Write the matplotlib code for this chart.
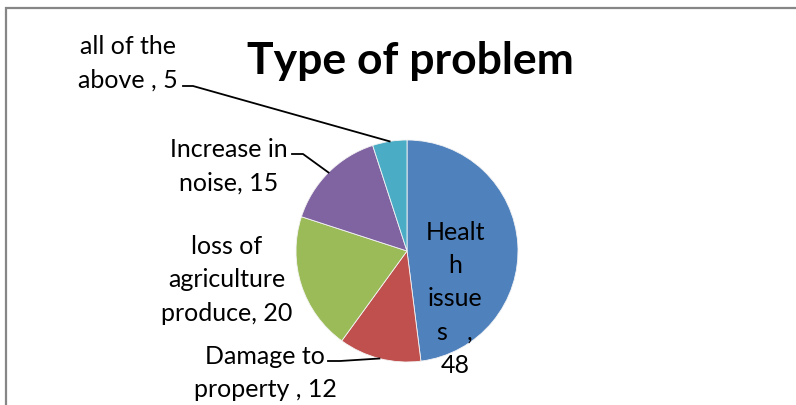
import numpy as np
import matplotlib.pyplot as plt

# data
labels = ['Health issues', 'Damage to property ', 'loss of agriculture produce', 'Increase in noise', 'all of the above ']
values = [48, 12, 20, 15, 5]
colors = ['#4F81BD', '#C0504D', '#9BBB59', '#8064A2', '#4BACC6']
title = 'Type of problem'

W, H = 796, 406


def py(y):
    # pixel row (from top) to data y
    return H - y


fig = plt.figure(figsize=(W / 100, H / 100), dpi=100)
ax = fig.add_axes([0, 0, 1, 1])

cx, cy, r = 407, py(252), 111
wedges, _ = ax.pie(values, colors=colors, startangle=90, counterclock=False,
                   center=(cx, cy), radius=r,
                   wedgeprops=dict(linewidth=0.6, edgecolor='#f4f4f4'))
ax.set_xlim(0, W)
ax.set_ylim(0, H)
ax.set_aspect('equal')
ax.axis('off')


def edge_point(w):
    ang = np.deg2rad((w.theta1 + w.theta2) / 2)
    return cx + r * np.cos(ang), cy + r * np.sin(ang)


font = 'Lato'
fs = 18
ls = 1.55

# frame (only top and left visible)
ax.plot([5.5, 5.5, W], [0, py(8.5), py(8.5)], color='#868686', lw=1.6,
        solid_joinstyle='miter', clip_on=False)

ax.text(410, py(61), title, ha='center', va='center', fontsize=32,
        fontweight='bold', family=font)

# labels
ax.text(128, py(63), 'all of the\nabove , ' + str(values[4]), ha='center', va='center',
        fontsize=fs, family=font, linespacing=ls)
ax.text(229, py(166), 'Increase in\nnoise, ' + str(values[3]), ha='center', va='center',
        fontsize=fs, family=font, linespacing=ls)
ax.text(227, py(280), 'loss of\nagriculture\nproduce, ' + str(values[2]), ha='center',
        va='center', fontsize=fs, family=font, linespacing=ls)
ax.text(265, py(373), 'Damage to\nproperty , ' + str(values[1]), ha='center', va='center',
        fontsize=fs, family=font, linespacing=ls)
ax.text(455, py(299), 'Healt\nh\nissue\ns   ,\n' + str(values[0]), ha='center', va='center',
        fontsize=fs, family=font, linespacing=ls)

# leader lines
for idx, (x0, x1, y0) in {4: (183, 193, 87), 3: (292, 303, 155), 1: (328, 340, 362)}.items():
    ex, ey = edge_point(wedges[idx])
    ax.plot([x0, x1, ex], [py(y0), py(y0), ey], color='black', lw=1.3)

fig.savefig('out.png', dpi=100)
